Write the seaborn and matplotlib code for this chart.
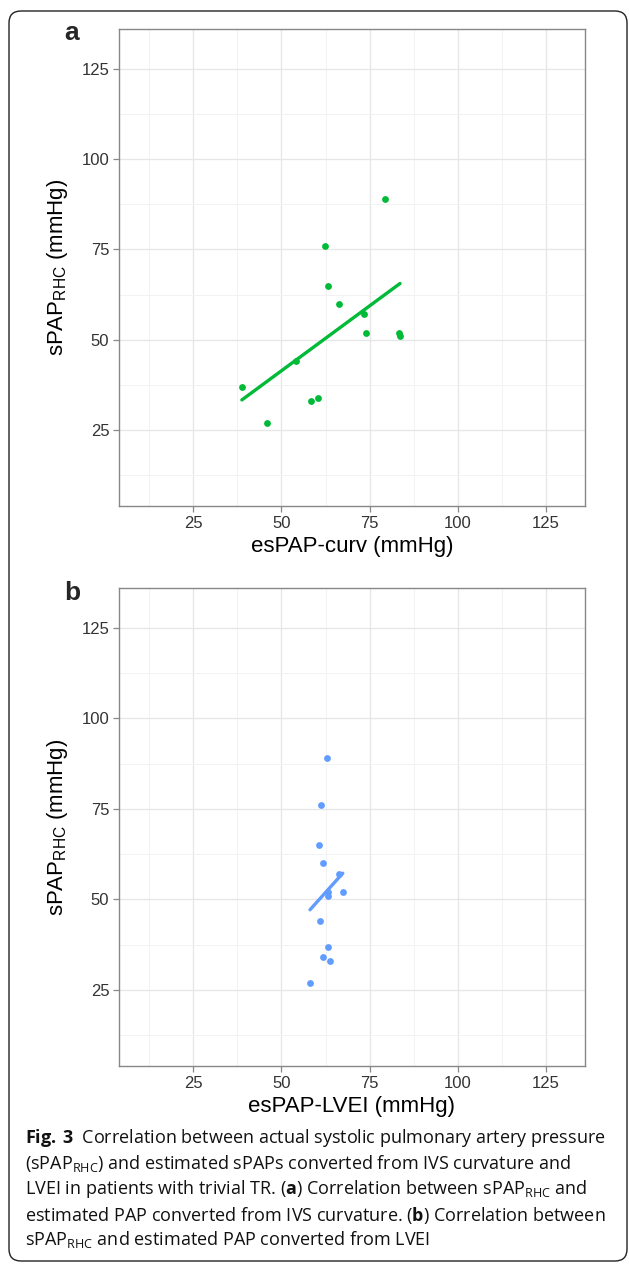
import numpy as np
import pandas as pd
import matplotlib
matplotlib.use("Agg")
import matplotlib.pyplot as plt
import seaborn as sns
from matplotlib.patches import FancyBboxPatch

# values (mmHg)
curv_x = [38.8, 45.9, 54.2, 58.4, 60.4, 62.3, 63.1, 66.2, 73.5, 73.9, 79.3, 83.2, 83.6]
curv_y = [37, 27, 44, 33, 34, 76, 65, 60, 57, 52, 89, 52, 51]
lvei_x = [62.8, 61.3, 60.7, 61.8, 66.3, 63.3, 63.1, 67.4, 61.0, 63.1, 61.8, 63.7, 58.1]
lvei_y = [89, 76, 65, 60, 57, 51, 52, 52, 44, 37, 34, 33, 27]
ticks = [25, 50, 75, 100, 125]
minor_ticks = [12.5, 37.5, 62.5, 87.5, 112.5]

df_a = pd.DataFrame({"x": curv_x, "y": curv_y})
df_b = pd.DataFrame({"x": lvei_x, "y": lvei_y})

sns.set_theme(style="white")
plt.rcParams["font.family"] = ["Liberation Sans", "DejaVu Sans"]
plt.rcParams["mathtext.fontset"] = "custom"
plt.rcParams["mathtext.rm"] = "Open Sans"
plt.rcParams["mathtext.bf"] = "Open Sans:bold"

W, H = 629, 1265
fig = plt.figure(figsize=(W / 100, H / 100), dpi=100)

# rounded frame around the figure, drawn in pixel coordinates
bg = fig.add_axes([0, 0, 1, 1])
bg.set_xlim(0, W)
bg.set_ylim(H, 0)
bg.axis("off")
bg.add_patch(FancyBboxPatch((9, 11), 618, 1250, boxstyle="round,pad=0,rounding_size=12",
                            fill=False, ec="#222222", lw=1.0))


def panel(rect, data, color, xlabel):
    ax = fig.add_axes(rect)
    sns.regplot(data=data, x="x", y="y", ax=ax, ci=None, color=color,
                scatter_kws={"s": 24, "linewidths": 0, "alpha": 1},
                line_kws={"lw": 2.4})
    ax.set_xlim(4, 136)
    ax.set_ylim(4, 136)
    ax.set_xticks(ticks)
    ax.set_yticks(ticks)
    ax.set_xticks(minor_ticks, minor=True)
    ax.set_yticks(minor_ticks, minor=True)
    ax.grid(True, which="major", color="#e6e6e6", lw=0.9)
    ax.grid(True, which="minor", color="#f2f2f2", lw=0.7)
    ax.set_axisbelow(True)
    for s in ax.spines.values():
        s.set_color("#888888")
        s.set_linewidth(1.0)
    ax.tick_params(which="major", length=4, width=0.9, color="#888888",
                   labelsize=12, labelcolor="#333333", bottom=True, left=True, pad=3)
    ax.tick_params(which="minor", length=0)
    ax.set_xlabel(xlabel, fontsize=16, color="black", labelpad=4)
    ax.set_ylabel(r"sPAP$_{\mathregular{RHC}}$ (mmHg)", fontsize=16, color="black", labelpad=8)
    return ax


ax_a = panel([119 / W, 1 - 506 / H, 466 / W, 477 / H], df_a, "#00BA38", "esPAP-curv (mmHg)")
ax_b = panel([119 / W, 1 - 1066 / H, 466 / W, 478 / H], df_b, "#619CFF", "esPAP-LVEI (mmHg)")

bg.text(72, 33, "a", fontsize=19, fontweight="bold", ha="center", va="center")
bg.text(72, 593, "b", fontsize=19, fontweight="bold", ha="center", va="center")

caption = [
    r"$\mathbf{Fig.\,3}$  Correlation between actual systolic pulmonary artery pressure",
    r"(sPAP$_{\mathrm{RHC}}$) and estimated sPAPs converted from IVS curvature and",
    r"LVEI in patients with trivial TR. ($\mathbf{a}$) Correlation between sPAP$_{\mathrm{RHC}}$ and",
    r"estimated PAP converted from IVS curvature. ($\mathbf{b}$) Correlation between",
    r"sPAP$_{\mathrm{RHC}}$ and estimated PAP converted from LVEI",
]
line_y = [1138, 1163, 1189, 1215, 1240]
for txt, yy in zip(caption, line_y):
    bg.text(25, yy, txt, fontsize=13, family=["Open Sans", "DejaVu Sans"],
            color="#111111", ha="left", va="center")

fig.savefig("out.png", dpi=100)
